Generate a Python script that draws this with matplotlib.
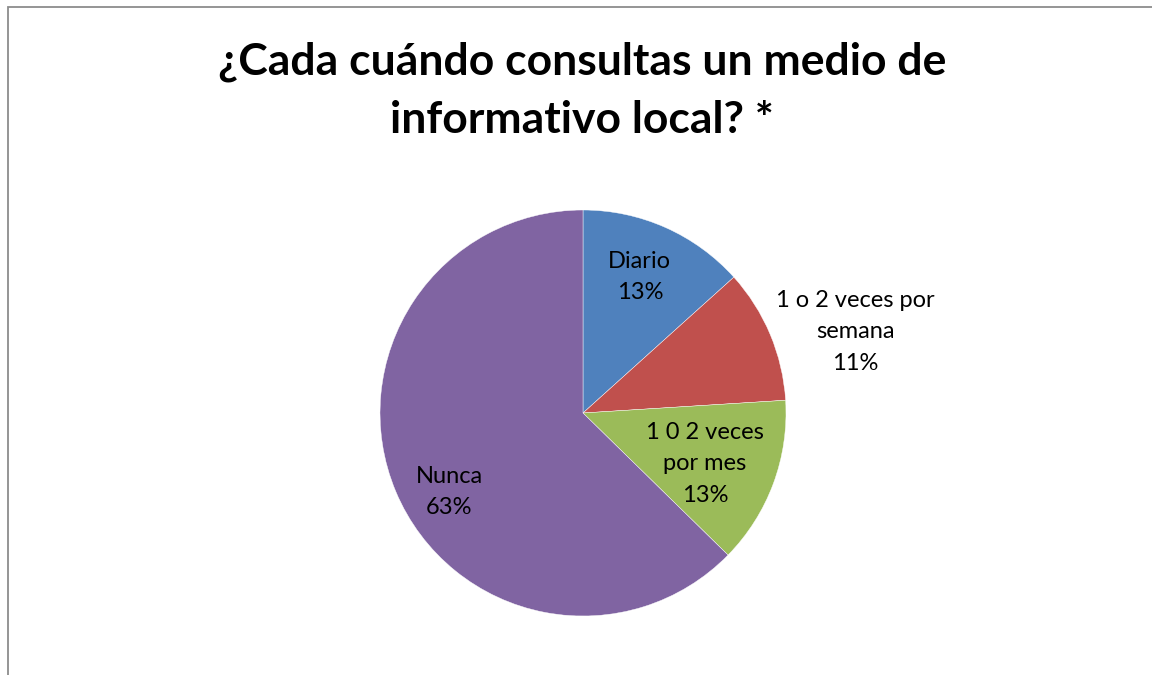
import matplotlib
matplotlib.use("Agg")
import matplotlib.pyplot as plt
from matplotlib.patches import Rectangle

TITLE = "¿Cada cuándo consultas un medio de\ninformativo local? *"
categories = ["Diario", "1 o 2 veces por\nsemana", "1 0 2 veces\npor mes", "Nunca"]
counts = [10, 8, 10, 47]
colors = ["#4F81BD", "#C0504D", "#9BBB59", "#8064A2"]
# label anchors (pie radius units), Excel "best fit" placement
label_pos = [(0.28, 0.67), (1.34, 0.40), (0.60, -0.25), (-0.66, -0.39)]

plt.rcParams["font.family"] = ["Lato", "DejaVu Sans"]

W, H = 1152, 675
fig = plt.figure(figsize=(W / 100, H / 100), dpi=100)

# chart area border (only top/left visible in the crop)
fig.patches.append(Rectangle((7.5 / W, -0.1), 1.2, (H - 7.5) / H + 0.1,
                             transform=fig.transFigure, fill=False,
                             edgecolor="#8C8C8C", linewidth=1.3))

fig.text(582 / W, 1 - 91 / H, TITLE, ha="center", va="center",
         fontsize=32, fontweight="bold", linespacing=1.55)

cx, cy, r = 583, 413, 203
ax = fig.add_axes([(cx - r) / W, (H - cy - r) / H, 2 * r / W, 2 * r / H])
ax.pie(counts, colors=colors, startangle=90, counterclock=False, radius=1.0,
       wedgeprops=dict(linewidth=0.3, edgecolor="white"))
ax.set_xlim(-1, 1)
ax.set_ylim(-1, 1)
ax.set_aspect("equal")
ax.axis("off")

total = sum(counts)
for name, n, (x, y) in zip(categories, counts, label_pos):
    ax.text(x, y, f"{name}\n{round(100 * n / total)}%", ha="center", va="center",
            fontsize=17, linespacing=1.62, clip_on=False)

fig.savefig("out.png", dpi=100)
